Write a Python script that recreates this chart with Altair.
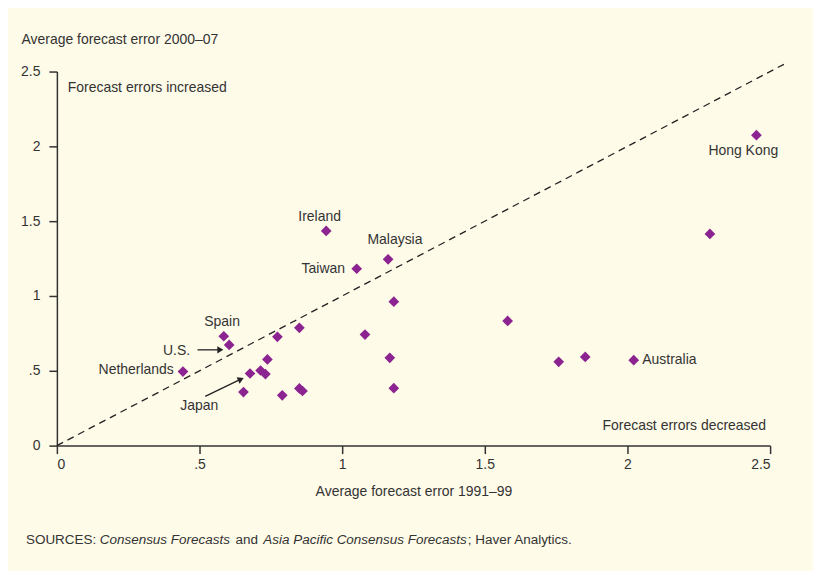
import altair as alt
import pandas as pd

# Data: average forecast errors (x: 1991-99, y: 2000-07)
err_1991_99 = [0.944, 1.161, 1.051, 1.181, 0.850, 0.773, 1.080, 0.585, 0.604, 0.738,
               1.167, 0.442, 0.677, 0.714, 0.731, 0.654, 0.790, 0.850, 0.861, 1.181,
               1.580, 1.759, 1.852, 2.022, 2.452, 2.289]
err_2000_07 = [1.435, 1.245, 1.182, 0.962, 0.787, 0.727, 0.742, 0.731, 0.673, 0.576,
               0.587, 0.495, 0.482, 0.502, 0.478, 0.358, 0.336, 0.382, 0.365, 0.384,
               0.833, 0.560, 0.593, 0.571, 2.075, 1.415]

label_text = ["Ireland", "Malaysia", "Taiwan", "Spain", "U.S.", "Netherlands", "Japan",
              "Hong Kong", "Australia", "Forecast errors increased", "Forecast errors decreased"]
label_x = [0.921, 1.185, 1.010, 0.579, 0.467, 0.410, 0.499, 2.406, 2.052, 0.038, 2.486]
label_y = [1.527, 1.373, 1.178, 0.827, 0.633, 0.507, 0.262, 1.969, 0.573, 2.387, 0.129]
label_align = ["center", "center", "right", "center", "right", "right", "center",
               "center", "left", "left", "right"]

ticks = [0, 0.5, 1, 1.5, 2, 2.5]

FONT = "Liberation Sans"
TXT = "#333333"
PURPLE = "#8B2390"
BG = "#FFFBE9"

pts = pd.DataFrame({"x": err_1991_99, "y": err_2000_07})
labels = pd.DataFrame({"x": label_x, "y": label_y, "t": label_text, "a": label_align})

xscale = alt.Scale(domain=[0, 2.5], nice=False, zero=True)
yscale = alt.Scale(domain=[0, 2.5], nice=False, zero=True)

axis_common = dict(
    values=ticks,
    labelExpr="replace(toString(datum.value), /^0\\./, '.')",
    domainColor=TXT, tickColor=TXT, domainWidth=1.5, tickWidth=1.5, tickSize=8,
    labelFont=FONT, labelFontSize=14, labelColor=TXT, grid=False,
    titleFont=FONT, titleFontSize=14, titleColor=TXT, titleFontWeight="normal",
)

base = alt.Chart(pts).mark_point(
    shape="diamond", filled=True, size=115, color=PURPLE, opacity=1
).encode(
    x=alt.X("x:Q", scale=xscale,
            axis=alt.Axis(title="Average forecast error 1991–99", labelPadding=4,
                          titlePadding=13, **axis_common)),
    y=alt.Y("y:Q", scale=yscale,
            axis=alt.Axis(title="Average forecast error 2000–07", labelPadding=9,
                          titleAngle=0, titleAlign="left", titleBaseline="alphabetic",
                          titleX=-36, titleY=-28, **axis_common)),
)

# 45-degree reference line
diag = alt.Chart(pd.DataFrame({"x": [0, 2.563], "y": [0, 2.563]})).mark_line(
    color="#222222", strokeDash=[7, 5], strokeWidth=1.3
).encode(x=alt.X("x:Q", scale=xscale), y=alt.Y("y:Q", scale=yscale))

layers = [diag, base]
for al in ["left", "center", "right"]:
    layers.append(
        alt.Chart(labels[labels.a == al]).mark_text(
            align=al, baseline="middle", font=FONT, fontSize=14, color=TXT
        ).encode(x=alt.X("x:Q", scale=xscale), y=alt.Y("y:Q", scale=yscale), text="t:N")
    )

# Arrows (U.S. and Japan)
arrows = pd.DataFrame({"x": [0.493, 0.572, 0.520, 0.645], "y": [0.64, 0.64, 0.329, 0.444],
                       "g": ["us", "us", "jp", "jp"]})
layers.append(alt.Chart(arrows).mark_line(color="#222222", strokeWidth=1.3).encode(
    x=alt.X("x:Q", scale=xscale), y=alt.Y("y:Q", scale=yscale), detail="g:N"))
heads = pd.DataFrame({"x": [0.573, 0.645], "y": [0.64, 0.444], "ang": [0, 335]})
layers.append(alt.Chart(heads).mark_point(
    shape="triangle-right", filled=True, size=50, color="#222222", opacity=1
).encode(x=alt.X("x:Q", scale=xscale), y=alt.Y("y:Q", scale=yscale),
         angle=alt.Angle("ang:Q", scale=None)))

# Source note (mixed italic)
src_parts = ["SOURCES:", "Consensus Forecasts", "and", "Asia Pacific Consensus Forecasts",
             "; Haver Analytics."]
src_x = [-31, 43, 179, 207, 412]
src_style = ["normal", "italic", "normal", "italic", "normal"]
for t, sx, st in zip(src_parts, src_x, src_style):
    layers.append(alt.Chart(pd.DataFrame({"t": [t]})).mark_text(
        align="left", baseline="middle", font=FONT, fontSize=13.5, color=TXT, fontStyle=st
    ).encode(x=alt.value(sx), y=alt.value(470), text="t:N"))

chart = alt.layer(*layers).properties(
    width=715, height=375, background=BG,
    autosize=alt.AutoSizeParams(type="none"),
    padding={"left": 49, "top": 63, "right": 43, "bottom": 125},
).configure_view(stroke=None)

chart.save("out.html", embed_options={"renderer": "svg", "actions": False})
